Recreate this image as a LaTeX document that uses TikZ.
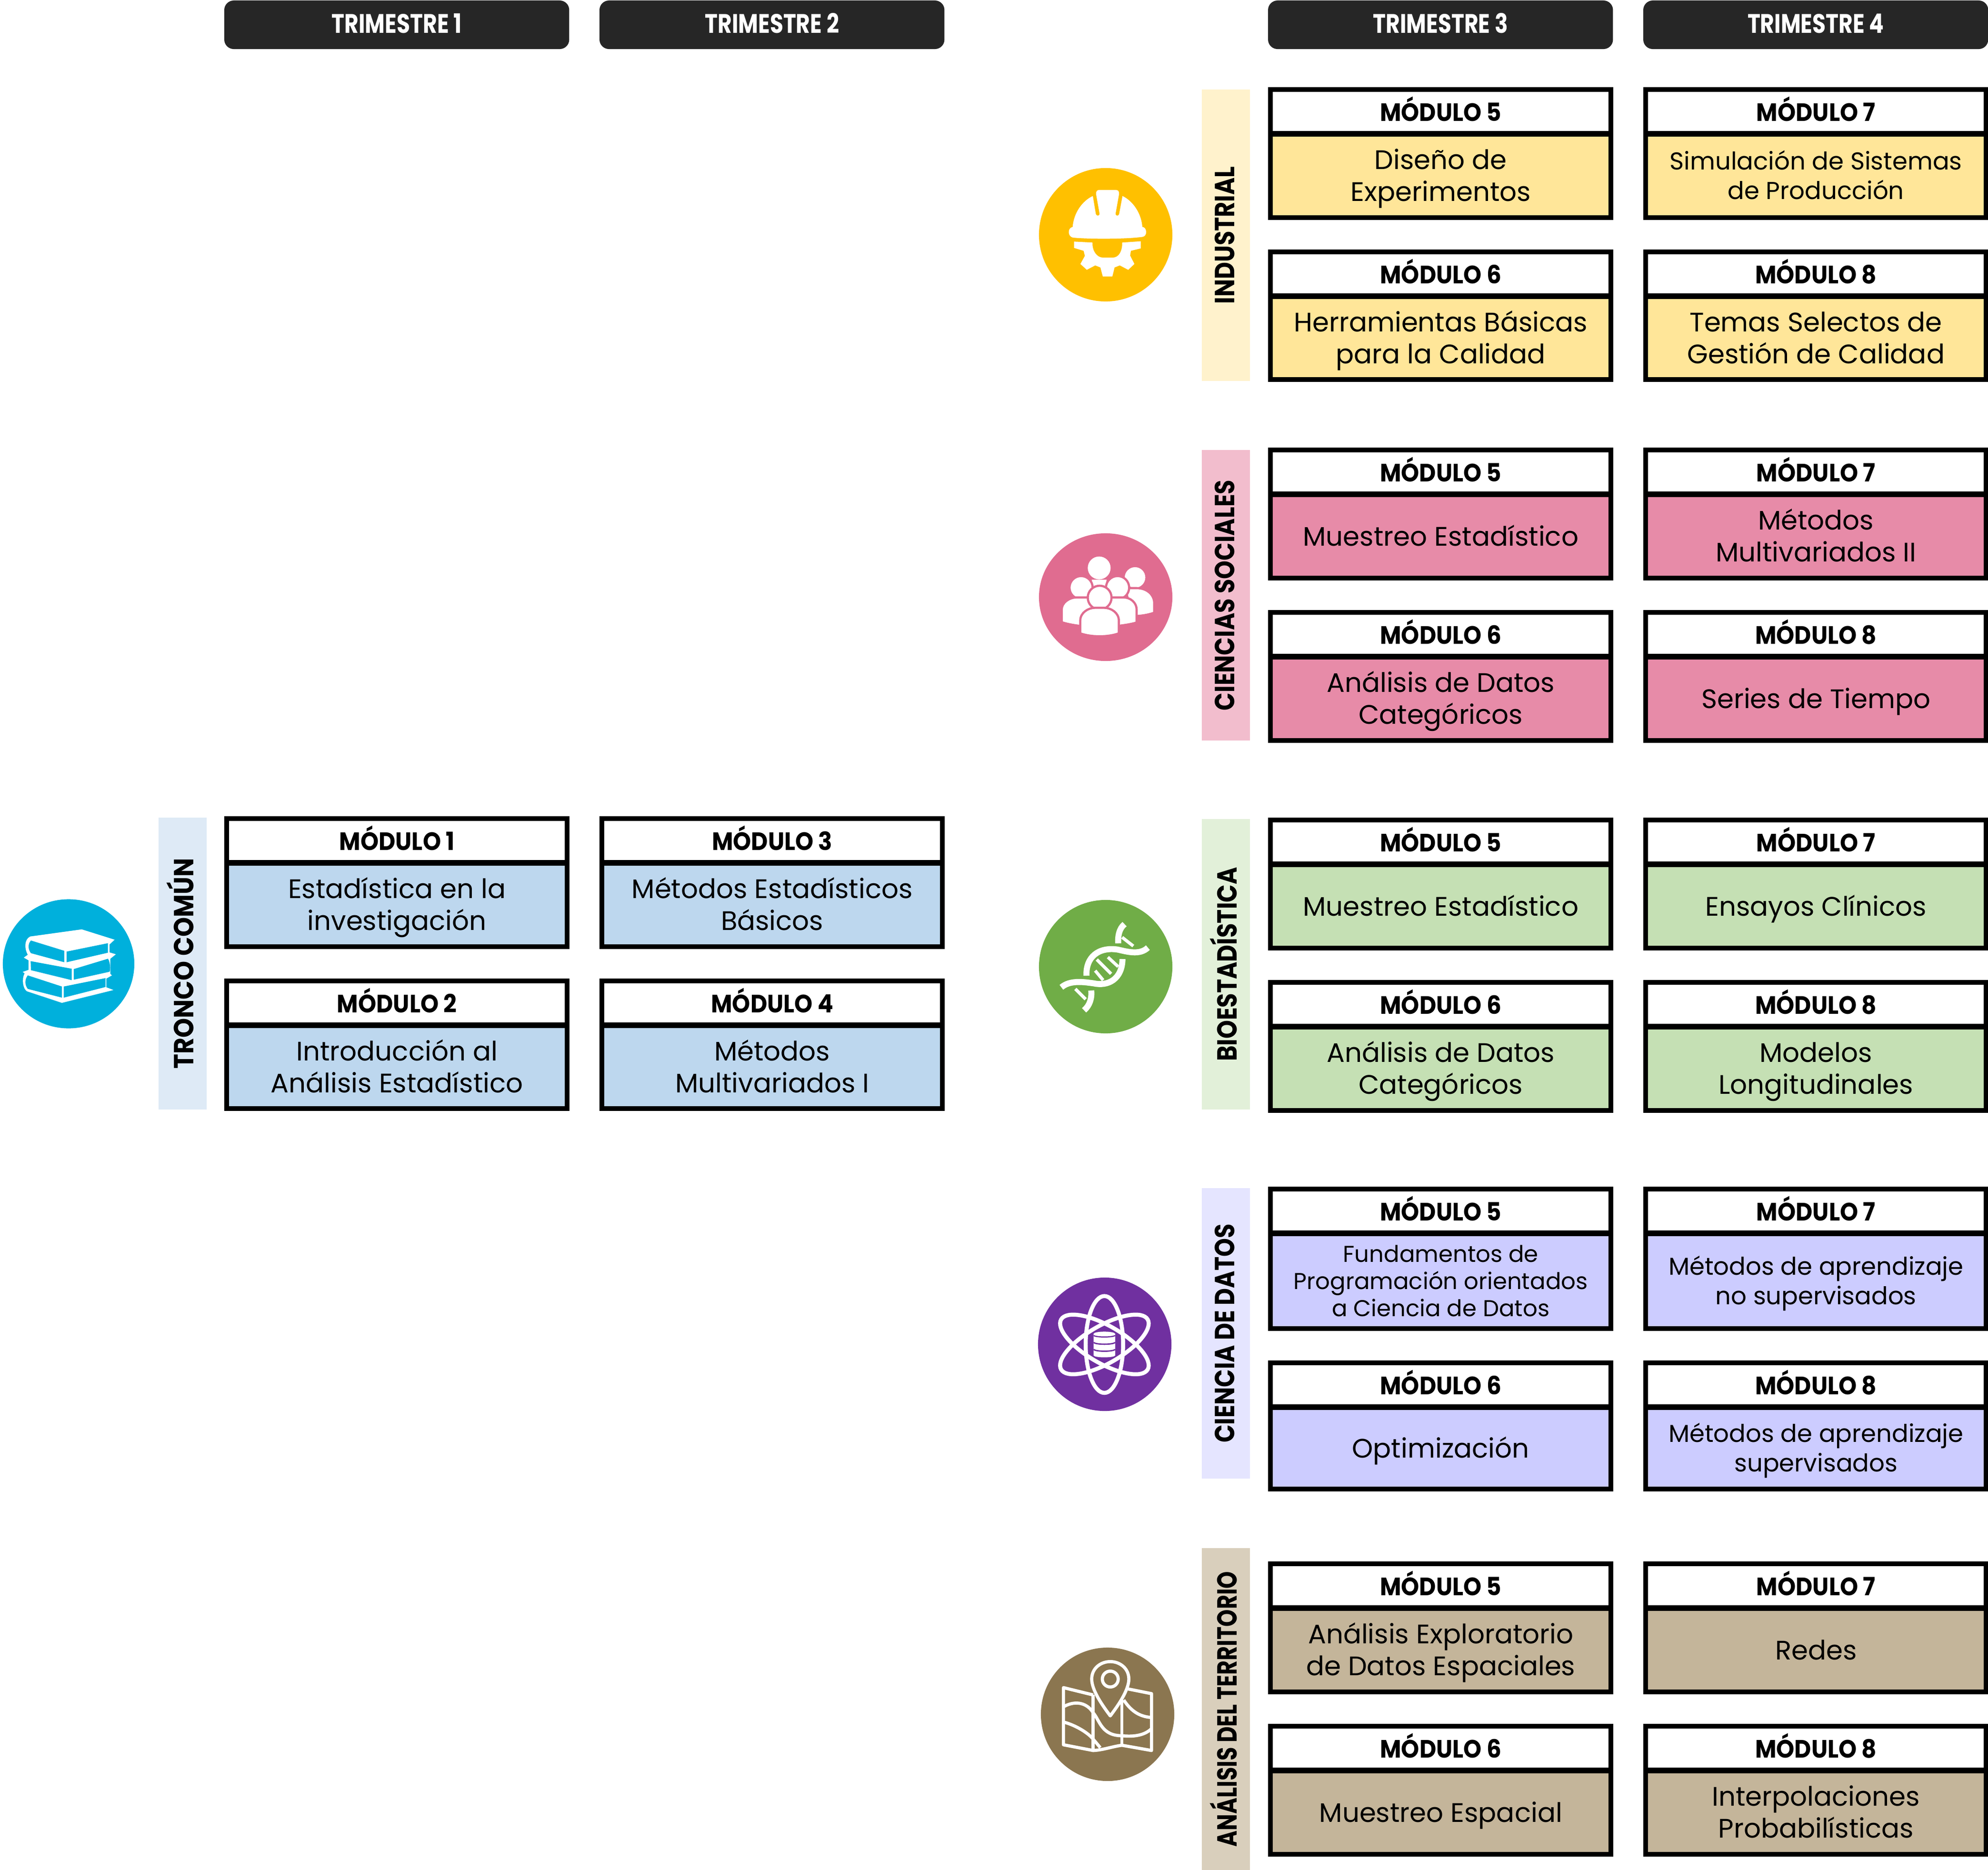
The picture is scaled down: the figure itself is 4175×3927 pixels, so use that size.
\documentclass[tikz,border=0pt]{standalone}
\usepackage{fontspec}
\usetikzlibrary{shapes.geometric}
\setmainfont{Poppins}
\newfontfamily\headfont[FakeStretch=0.92]{Poppins}
\newfontfamily\trifont[FakeStretch=0.81]{Poppins}
\newfontfamily\bandfont[FakeStretch=0.852]{Poppins}
\newfontfamily\tronfont[FakeStretch=0.90]{Poppins}
\newfontfamily\terfont[FakeStretch=0.795]{Poppins}
\definecolor{barblack}{HTML}{262626}
\definecolor{indF}{HTML}{FFE699}\definecolor{indB}{HTML}{FFF2CC}\definecolor{indC}{HTML}{FFC000}
\definecolor{socF}{HTML}{E78BA8}\definecolor{socB}{HTML}{F2BDCD}\definecolor{socC}{HTML}{E06C90}
\definecolor{bioF}{HTML}{C5E0B4}\definecolor{bioB}{HTML}{E2F0D9}\definecolor{bioC}{HTML}{70AD47}
\definecolor{datF}{HTML}{CCCCFF}\definecolor{datB}{HTML}{E5E5FF}\definecolor{datC}{HTML}{7030A0}
\definecolor{terF}{HTML}{C4B59A}\definecolor{terB}{HTML}{D9CFBC}\definecolor{terC}{HTML}{8B7650}
\definecolor{troF}{HTML}{BDD7EE}\definecolor{troB}{HTML}{DEEAF6}\definecolor{troC}{HTML}{00B0DC}
\newcommand{\capstrut}{\rule{0pt}{0.82em}\rule[-0.2em]{0pt}{0.2em}}
\newcommand{\lowtop}{\rule{0pt}{0.96em}}
\newcommand{\lowbot}{\rule[-0.26em]{0pt}{0.26em}}
\tikzset{
  modpart/.style={draw=black,line width=2.845pt,inner sep=0pt,outer sep=0pt,anchor=north west,align=center,text=black},
  headtxt/.style={font=\fontsize{15}{17}\headfont\bfseries},
  bigtxt/.style={font=\fontsize{16}{19}\selectfont},
  midtxt/.style={font=\fontsize{14.6}{17.6}\selectfont},
  smalltxt/.style={font=\fontsize{13.7}{16.3}\selectfont},
  tribar/.style={fill=barblack,rounded corners=0.2cm,inner sep=0pt,outer sep=0pt,anchor=north west,text=white,
    minimum width=7.24cm,minimum height=1.02cm,font=\fontsize{16}{18}\trifont\bfseries},
  bandnode/.style={rotate=90,inner sep=0pt,outer sep=0pt,minimum height=1.01cm,text=black},
  bandreg/.style={font=\fontsize{16.5}{18}\bandfont\bfseries},
  bandtro/.style={font=\fontsize{16.5}{18}\tronfont\bfseries},
  bandter/.style={font=\fontsize{16.5}{18}\terfont\bfseries},
  iconbg/.style={ellipse,inner sep=0pt,outer sep=0pt},
}
% id, x, top, bottom, label, fill, text style, text
\newcommand{\modbox}[8]{%
  \pgfmathsetmacro{\hy}{#3+5}%
  \pgfmathsetmacro{\by}{#3+99}%
  \pgfmathsetmacro{\bh}{#4-5-(#3+99)}%
  \pgfmathsetmacro{\lx}{#2+5}%
  \node[modpart,fill=white,minimum width=7.15cm,minimum height=0.92cm,headtxt] (#1h) at (\lx,\hy) {\capstrut #5};
  \node[modpart,fill=#6,minimum width=7.15cm,minimum height={\bh*0.01cm},#7] (#1b) at (\lx,\by) {\lowtop #8\lowbot};
}
\newcommand{\bandbox}[7]{% id, x-left, top, bottom, fill, style, text
  \pgfmathsetmacro{\cx}{#2+50.5}%
  \pgfmathsetmacro{\cy}{(#3+#4)/2}%
  \pgfmathsetmacro{\len}{#4-#3}%
  \node[bandnode,#6,fill=#5,minimum width={\len*0.01cm}] (#1) at (\cx,\cy) {\capstrut #7};
}
\begin{document}
\begin{tikzpicture}[x=0.01cm,y=-0.01cm]
\useasboundingbox (0,0) rectangle (4175,3927);
% trimester bars
\node[tribar] (t1) at (471,1) {\capstrut TRIMESTRE 1};
\node[tribar] (t2) at (1259,1) {\capstrut TRIMESTRE 2};
\node[tribar] (t3) at (2663,1) {\capstrut TRIMESTRE 3};
\node[tribar] (t4) at (3451,1) {\capstrut TRIMESTRE 4};
% bands
\bandbox{bTro}{333}{1717}{2330}{troB}{bandtro}{TRONCO COMÚN}
\bandbox{bInd}{2524}{188}{800}{indB}{bandreg}{INDUSTRIAL}
\bandbox{bSoc}{2524}{945}{1555}{socB}{bandreg}{CIENCIAS SOCIALES}
\bandbox{bBio}{2524}{1720}{2330}{bioB}{bandreg}{BIOESTADÍSTICA}
\bandbox{bDat}{2524}{2495}{3105}{datB}{bandreg}{CIENCIA DE DATOS}
\bandbox{bTer}{2524}{3251}{3927}{terB}{bandter}{ANÁLISIS DEL TERRITORIO}
% tronco comun
\modbox{m1}{471}{1714}{1993}{MÓDULO 1}{troF}{bigtxt}{Estadística en la\\investigación}
\modbox{m2}{471}{2055}{2333}{MÓDULO 2}{troF}{bigtxt}{Introducción al\\Análisis Estadístico}
\modbox{m3}{1259}{1714}{1993}{MÓDULO 3}{troF}{bigtxt}{Métodos Estadísticos\\Básicos}
\modbox{m4}{1259}{2055}{2333}{MÓDULO 4}{troF}{bigtxt}{Métodos\\Multivariados I}
% industrial
\modbox{i5}{2663}{183}{462}{MÓDULO 5}{indF}{bigtxt}{Diseño de\\Experimentos}
\modbox{i6}{2663}{524}{802}{MÓDULO 6}{indF}{bigtxt}{Herramientas Básicas\\para la Calidad}
\modbox{i7}{3451}{183}{462}{MÓDULO 7}{indF}{midtxt}{Simulación de Sistemas\\de Producción}
\modbox{i8}{3451}{524}{802}{MÓDULO 8}{indF}{bigtxt}{Temas Selectos de\\Gestión de Calidad}
% sociales
\modbox{s5}{2663}{940}{1219}{MÓDULO 5}{socF}{bigtxt}{Muestreo Estadístico}
\modbox{s6}{2663}{1281}{1560}{MÓDULO 6}{socF}{bigtxt}{Análisis de Datos\\Categóricos}
\modbox{s7}{3451}{940}{1219}{MÓDULO 7}{socF}{bigtxt}{Métodos\\Multivariados II}
\modbox{s8}{3451}{1281}{1560}{MÓDULO 8}{socF}{bigtxt}{Series de Tiempo}
% bio
\modbox{b5}{2663}{1717}{1996}{MÓDULO 5}{bioF}{bigtxt}{Muestreo Estadístico}
\modbox{b6}{2663}{2058}{2337}{MÓDULO 6}{bioF}{bigtxt}{Análisis de Datos\\Categóricos}
\modbox{b7}{3451}{1717}{1996}{MÓDULO 7}{bioF}{bigtxt}{Ensayos Clínicos}
\modbox{b8}{3451}{2058}{2337}{MÓDULO 8}{bioF}{bigtxt}{Modelos\\Longitudinales}
% datos
\modbox{d5}{2663}{2492}{2795}{MÓDULO 5}{datF}{smalltxt}{Fundamentos de\\Programación orientados\\a Ciencia de Datos}
\modbox{d6}{2663}{2857}{3132}{MÓDULO 6}{datF}{bigtxt}{Optimización}
\modbox{d7}{3451}{2492}{2795}{MÓDULO 7}{datF}{midtxt}{Métodos de aprendizaje\\no supervisados}
\modbox{d8}{3451}{2857}{3132}{MÓDULO 8}{datF}{midtxt}{Métodos de aprendizaje\\supervisados}
% territorio
\modbox{r5}{2663}{3279}{3558}{MÓDULO 5}{terF}{bigtxt}{Análisis Exploratorio\\de Datos Espaciales}
\modbox{r6}{2663}{3620}{3899}{MÓDULO 6}{terF}{bigtxt}{Muestreo Espacial}
\modbox{r7}{3451}{3279}{3558}{MÓDULO 7}{terF}{bigtxt}{Redes}
\modbox{r8}{3451}{3620}{3899}{MÓDULO 8}{terF}{bigtxt}{Interpolaciones\\Probabilísticas}
% icon discs
\node[iconbg,fill=troC,minimum width=2.76cm,minimum height=2.71cm] (cTro) at (144,2024) {};
\node[iconbg,fill=indC,minimum width=2.80cm,minimum height=2.80cm] (cInd) at (2322,493) {};
\node[iconbg,fill=socC,minimum width=2.80cm,minimum height=2.68cm] (cSoc) at (2322,1254) {};
\node[iconbg,fill=bioC,minimum width=2.80cm,minimum height=2.80cm] (cBio) at (2322,2030) {};
\node[iconbg,fill=datC,minimum width=2.80cm,minimum height=2.80cm] (cDat) at (2320,2823) {};
\node[iconbg,fill=terC,minimum width=2.80cm,minimum height=2.80cm] (cTer) at (2326,3600) {};
% helmet and gear
\begin{scope}[shift={(2100,300)},scale=1/3]
\fill[white] (458,530) .. controls (465,440) and (520,365) .. (585,335) -- (604,448)
  .. controls (607,462) and (627,462) .. (628,448) -- (606,325) .. controls (604,305) and (612,297) .. (625,297)
  -- (730,297) .. controls (745,297) and (752,305) .. (750,325) -- (728,448)
  .. controls (729,462) and (749,462) .. (751,448) -- (772,335)
  .. controls (835,365) and (890,440) .. (897,530) .. controls (925,530) and (932,585) .. (900,592)
  .. controls (800,607) and (560,607) .. (460,597) .. controls (425,590) and (425,535) .. (458,530) -- cycle;
\fill[white] (467,622) -- (583,628) .. controls (580,680) and (610,723) .. (650,723) -- (710,723)
  .. controls (750,723) and (772,680) .. (770,628) -- (887,620) -- (887,665) -- (825,680) -- (820,710)
  -- (847,763) -- (808,800) -- (755,772) -- (722,785) -- (708,842) -- (648,842) -- (633,785) -- (600,772)
  -- (547,800) -- (507,763) -- (535,712) -- (527,680) -- (467,662) -- cycle;
\end{scope}
% people
\begin{scope}[shift={(2100,1080)},scale=1/3]
\fill[white] (625,338) circle (72);
\fill[white] (578,412) -- (672,412) -- (660,480) -- (590,480) -- cycle;
\begin{scope}[draw=socC,line width=1.3pt,fill=white]
\filldraw (851,398) circle (72);
\filldraw (790,465) -- (860,465) .. controls (930,465) and (972,510) .. (972,560) -- (972,620) .. controls (930,635) and (880,642) .. (830,642) -- cycle;
\filldraw (511,462) circle (73);
\filldraw (389,680) -- (389,600) .. controls (389,555) and (440,524) .. (480,524) -- (620,524) -- (620,710) .. controls (540,710) and (450,700) .. (389,680) -- cycle;
\filldraw (741,462) circle (73);
\filldraw (620,524) -- (780,524) .. controls (820,524) and (861,555) .. (861,600) -- (861,682) .. controls (800,700) and (700,710) .. (620,710) -- cycle;
\filldraw (628,525) circle (75);
\filldraw (506,750) -- (506,670) .. controls (506,620) and (555,589) .. (600,589) -- (655,589) .. controls (700,589) and (749,620) .. (749,670) -- (749,750) .. controls (680,775) and (575,775) .. (506,750) -- cycle;
\end{scope}
\end{scope}
% dna
\begin{scope}[shift={(2100,1850)},scale=1/3]
\begin{scope}[draw=white]
\draw[line width=3.6pt] (387,670) .. controls (440,625) and (520,635) .. (590,645) .. controls (680,665) and (770,620) .. (772,492);
\draw[line width=3.6pt] (932,420) .. controls (880,470) and (800,445) .. (740,432) .. controls (620,415) and (540,480) .. (545,597);
\draw[line width=3.6pt] (785,272) .. controls (750,300) and (742,350) .. (745,393);
\draw[line width=3.6pt] (530,815) .. controls (565,785) and (580,740) .. (575,690);
\draw[line width=1.9pt] (770,355) -- (840,410);
\draw[line width=1.9pt] (475,680) -- (540,745);
\draw[line width=1.9pt] (610,495) -- (700,585);
\draw[line width=1.9pt] (680,480) -- (745,540);
\draw[line width=1.9pt] (600,565) -- (650,625);
\end{scope}
\end{scope}
% atom and database
\begin{scope}[shift={(2100,2630)},scale=1/3]
\draw[white,line width=2.4pt] (658,580) ellipse [x radius=118,y radius=305];
\draw[white,line width=2.4pt,rotate around={60:(658,580)}] (658,580) ellipse [x radius=118,y radius=315];
\draw[white,line width=2.4pt,rotate around={-60:(658,580)}] (658,580) ellipse [x radius=118,y radius=315];
\fill[white] (590,512) .. controls (600,495) and (716,495) .. (726,512) -- (726,650) .. controls (716,665) and (600,665) .. (590,650) -- cycle;
\draw[datC,line width=0.7pt] (590,524) .. controls (610,536) and (706,536) .. (726,524);
\draw[datC,line width=0.8pt] (590,568) .. controls (610,582) and (706,582) .. (726,568);
\draw[datC,line width=0.8pt] (590,612) .. controls (610,626) and (706,626) .. (726,612);
\end{scope}
% map
\begin{scope}[shift={(2100,3400)},scale=1/3,line join=round]
\begin{scope}[draw=white,line width=1.9pt]
\draw (587,478) -- (400,432) -- (400,792) -- (587,828) .. controls (650,825) and (700,805) .. (768,795) -- (955,828) -- (955,470) -- (805,440);
\draw (587,478) -- (587,828);
\draw (768,500) -- (768,795);
\draw (405,550) .. controls (480,510) and (550,530) .. (587,590) .. controls (630,640) and (640,735) .. (768,735) .. controls (860,745) and (920,725) .. (955,690);
\draw (405,650) .. controls (480,670) and (560,720) .. (590,760) -- (632,810);
\draw (780,510) .. controls (820,570) and (870,615) .. (955,620);
\draw[fill=terC] (695,610) .. controls (650,550) and (578,450) .. (578,378) .. controls (578,310) and (635,268) .. (695,268) .. controls (755,268) and (812,310) .. (812,378) .. controls (812,450) and (740,550) .. (695,610) -- cycle;
\draw (695,378) circle (50);
\end{scope}
\end{scope}
% books
\begin{scope}[shift={(0,1850)},scale=1/3]
\fill[white] (515,305) -- (722,370) -- (690,400) -- (690,450) -- (730,462) -- (695,490) -- (695,585) -- (705,595) -- (670,615) -- (670,670) -- (715,687) -- (390,768) -- (170,695) .. controls (145,680) and (135,620) .. (155,582) -- (143,573) -- (180,560) -- (180,500) -- (150,483) -- (175,465) .. controls (155,430) and (150,370) .. (190,350) -- cycle;
\begin{scope}[fill=troC]
\fill (195,375) -- (405,440) -- (405,512) -- (195,455) .. controls (175,430) and (175,395) .. (195,375) -- cycle;
\fill (420,445) -- (680,392) -- (680,452) -- (420,512) -- cycle;
\fill (193,505) -- (452,553) -- (452,625) -- (195,562) -- cycle;
\fill (465,555) -- (680,490) .. controls (695,510) and (697,560) .. (690,572) -- (465,622) -- cycle;
\fill (175,595) -- (390,665) -- (390,735) -- (175,680) .. controls (155,655) and (155,620) .. (175,595) -- cycle;
\fill (402,665) -- (665,612) -- (665,668) -- (402,735) -- cycle;
\end{scope}
\end{scope}
\end{tikzpicture}
\end{document}
